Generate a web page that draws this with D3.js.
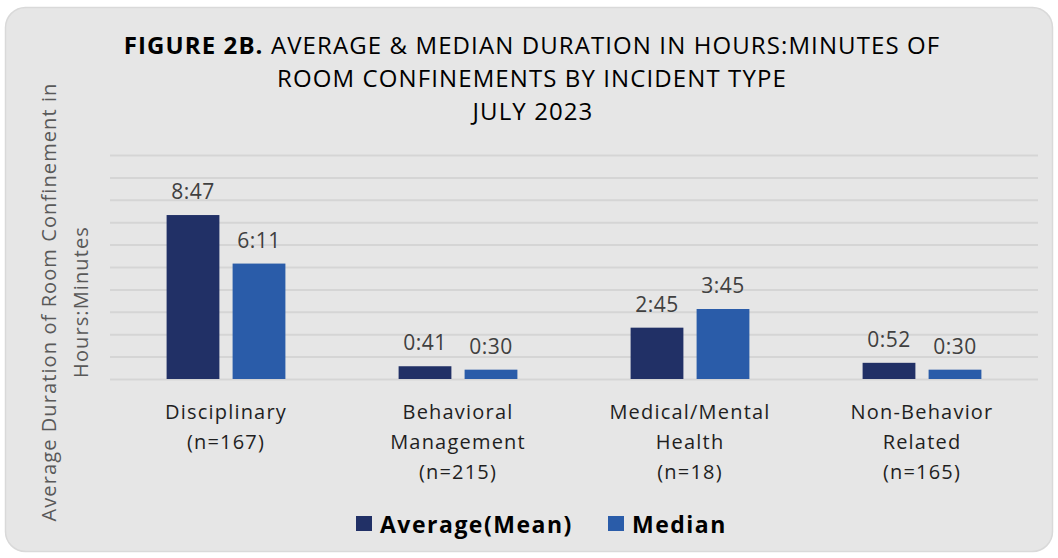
<!DOCTYPE html>
<html>
<head>
<meta charset="utf-8">
<script src="https://cdn.jsdelivr.net/npm/d3@7"></script>
<style>
  body { margin: 0; background: #ffffff; }
  svg { display: block; font-family: "Open Sans", "Noto Sans", sans-serif; }
</style>
</head>
<body>
<div id="chart"></div>
<script>
// Data
var categories = ["Disciplinary", "Behavioral Management", "Medical/Mental Health", "Non-Behavior Related"];
var categoryLines = [
    ["Disciplinary", "(n=167)"],
    ["Behavioral", "Management", "(n=215)"],
    ["Medical/Mental", "Health", "(n=18)"],
    ["Non-Behavior", "Related", "(n=165)"]
];
var seriesNames = ["Average(Mean)", "Median"];
var averageValues = ["8:47", "0:41", "2:45", "0:52"];
var medianValues = ["6:11", "0:30", "3:45", "0:30"];
var seriesColors = ["#213066", "#2a5ca9"];

function toHours(s) {
    var p = s.split(":");
    return +p[0] + +p[1] / 60;
}

function init() {
    var W = 1058, H = 558;
    var left = 110, right = 1038, top = 155, bottom = 379;

    var svg = d3.select("#chart")
        .append("svg")
        .attr("width", W)
        .attr("height", H);

    // Chart background panel
    svg.append("rect")
        .attr("x", 5.5)
        .attr("y", 7.5)
        .attr("width", W - 11)
        .attr("height", H - 14)
        .attr("rx", 20)
        .attr("fill", "#e6e6e6")
        .attr("stroke", "#d9d9d9")
        .attr("stroke-width", 1.5);

    var data = categories.map(function (c, i) {
        return {
            category: c,
            lines: categoryLines[i],
            values: [
                { series: seriesNames[0], label: averageValues[i], value: toHours(averageValues[i]) },
                { series: seriesNames[1], label: medianValues[i], value: toHours(medianValues[i]) }
            ]
        };
    });

    // Scales (axis in Excel time units: 0 to 12:00, major unit 1:12)
    var x0 = d3.scaleBand()
        .domain(categories)
        .range([left, right]);

    var x1 = d3.scaleBand()
        .domain(seriesNames)
        .range([56.6, x0.bandwidth() - 56.6])
        .paddingInner(0.2);

    var y = d3.scaleLinear()
        .domain([0, 12])
        .range([bottom, top]);

    var color = d3.scaleOrdinal()
        .domain(seriesNames)
        .range(seriesColors);

    // Gridlines
    var yAxis = d3.axisLeft(y)
        .tickValues(d3.range(0, 12.001, 1.2))
        .tickSize(-(right - left))
        .tickFormat("");

    var grid = svg.append("g")
        .attr("transform", "translate(" + left + ",0)")
        .call(yAxis);
    grid.select(".domain").remove();
    grid.selectAll("line")
        .attr("stroke", "#d5d5d5")
        .attr("stroke-width", 2);

    // Bars
    var groups = svg.append("g")
        .selectAll("g")
        .data(data)
        .join("g")
        .attr("transform", d => "translate(" + x0(d.category) + ",0)");

    groups.selectAll("rect")
        .data(d => d.values)
        .join("rect")
        .attr("x", d => x1(d.series))
        .attr("y", d => y(d.value))
        .attr("width", x1.bandwidth())
        .attr("height", d => y(0) - y(d.value))
        .attr("fill", d => color(d.series));

    // Value labels
    groups.selectAll("text.value")
        .data(d => d.values)
        .join("text")
        .attr("class", "value")
        .attr("x", d => x1(d.series) + x1.bandwidth() / 2)
        .attr("y", d => y(d.value) - 16)
        .attr("text-anchor", "middle")
        .attr("fill", "#404040")
        .style("font-size", "21px")
        .style("letter-spacing", "0.5px")
        .text(d => d.label);

    // Category labels
    var xLabels = svg.append("g")
        .selectAll("text")
        .data(data)
        .join("text")
        .attr("x", d => x0(d.category) + x0.bandwidth() / 2)
        .attr("y", 419)
        .attr("text-anchor", "middle")
        .attr("fill", "#1f1f1f")
        .style("font-size", "20px")
        .style("letter-spacing", "1.2px");

    xLabels.selectAll("tspan")
        .data(d => d.lines)
        .join("tspan")
        .attr("x", function () { return d3.select(this.parentNode).attr("x"); })
        .attr("dy", (d, i) => i === 0 ? 0 : 30)
        .text(d => d);

    // Y axis title
    svg.append("text")
        .attr("transform", "translate(56,302) rotate(-90)")
        .attr("text-anchor", "middle")
        .attr("fill", "#595959")
        .style("font-size", "20px")
        .style("letter-spacing", "1.1px")
        .text("Average Duration of Room Confinement in");

    svg.append("text")
        .attr("transform", "translate(88,302) rotate(-90)")
        .attr("text-anchor", "middle")
        .attr("fill", "#595959")
        .style("font-size", "20px")
        .style("letter-spacing", "1.1px")
        .text("Hours:Minutes");

    // Title
    var titleLines = [54, 87, 120];
    var title = svg.append("text")
        .attr("x", 532)
        .attr("y", titleLines[0])
        .attr("text-anchor", "middle")
        .attr("fill", "#000")
        .style("font-size", "24px")
        .style("letter-spacing", "1.1px");
    title.append("tspan").style("font-weight", "bold").text("FIGURE 2B.");
    title.append("tspan").text(" AVERAGE & MEDIAN DURATION IN HOURS:MINUTES OF");

    svg.append("text")
        .attr("x", 532)
        .attr("y", titleLines[1])
        .attr("text-anchor", "middle")
        .attr("fill", "#000")
        .style("font-size", "24px")
        .style("letter-spacing", "1.1px")
        .text("ROOM CONFINEMENTS BY INCIDENT TYPE");

    svg.append("text")
        .attr("x", 533)
        .attr("y", titleLines[2])
        .attr("text-anchor", "middle")
        .attr("fill", "#000")
        .style("font-size", "24px")
        .style("letter-spacing", "1.1px")
        .text("JULY 2023");

    // Legend
    var legendX = [356, 608];
    var legend = svg.append("g")
        .selectAll("g")
        .data(seriesNames)
        .join("g")
        .attr("transform", (d, i) => "translate(" + legendX[i] + ",516)");

    legend.append("rect")
        .attr("width", 16)
        .attr("height", 15)
        .attr("fill", d => color(d));

    legend.append("text")
        .attr("x", 24)
        .attr("y", 17)
        .attr("fill", "#000")
        .style("font-size", "23px")
        .style("font-weight", "bold")
        .style("letter-spacing", "1.5px")
        .text(d => d);
}

init();
</script>
</body>
</html>
